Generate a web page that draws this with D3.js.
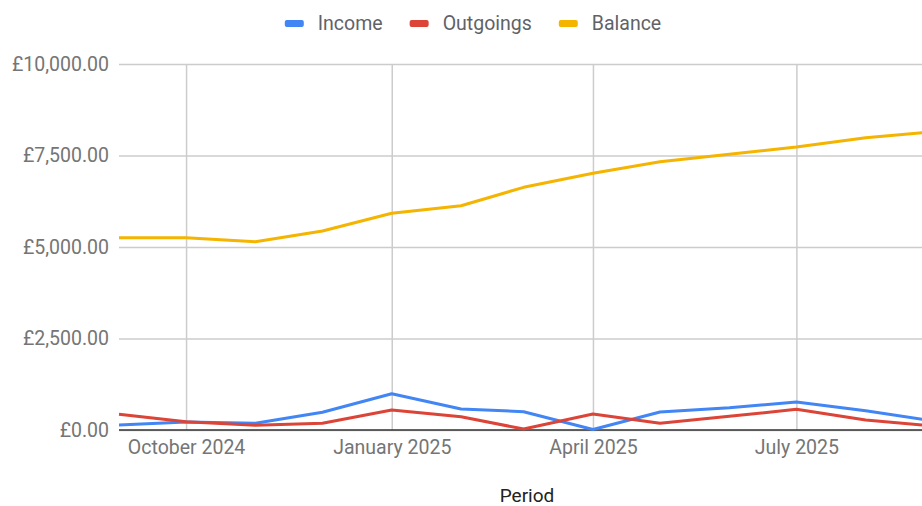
<!DOCTYPE html>
<html>
<head>
<meta charset="utf-8">
<script src="https://cdn.jsdelivr.net/npm/d3@7"></script>
<style>
  body { margin: 0; background: #fff; }
  text { font-family: Roboto, "Noto Sans", sans-serif; }
</style>
</head>
<body>
<div id="chart"></div>
<script>
// Monthly figures
const months = ["2024-09-01", "2024-10-01", "2024-11-01", "2024-12-01", "2025-01-01", "2025-02-01",
    "2025-03-01", "2025-04-01", "2025-05-01", "2025-06-01", "2025-07-01", "2025-08-01", "2025-09-01"];
const income = [137, 219, 183, 483, 992, 574, 500, 15, 492, 610, 765, 527, 238];
const outgoings = [429, 227, 128, 183, 546, 364, 25, 437, 183, 375, 565, 273, 104];
const balance = [5254, 5250, 5145, 5437, 5920, 6128, 6630, 7013, 7330, 7532, 7732, 7986, 8156];
const seriesNames = ["Income", "Outgoings", "Balance"];
const yTicks = [0, 2500, 5000, 7500, 10000];

function drawChart(graphID) {
    let width = 922, height = 506;
    let plot = {left: 119, right: 935, top: 64, bottom: 430};
    let fontSize = 19.5;

    let svg = d3.select(graphID).append("svg")
        .attr("width", width)
        .attr("height", height);

    let parse = d3.timeParse("%Y-%m-%d");
    let dates = months.map(parse);

    let xScale = d3.scaleTime()
        .domain([dates[0], dates[dates.length - 1]])
        .range([plot.left, plot.right]);
    let yScale = d3.scaleLinear()
        .domain([0, 10000])
        .range([plot.bottom, plot.top]);

    let colorScale = {
        "Income": "#4285f4",
        "Outgoings": "#db4437",
        "Balance": "#f4b400"
    };

    let gbp = d3.formatLocale({decimal: ".", thousands: ",", grouping: [3], currency: ["£", ""]});

    // Horizontal gridlines + y labels
    let yAxis = d3.axisLeft(yScale)
        .tickValues(yTicks)
        .tickSize(-(plot.right - plot.left))
        .tickPadding(10)
        .tickFormat(gbp.format("$,.2f"));
    let yg = svg.append("g")
        .attr("transform", "translate(" + plot.left + ",0)")
        .call(yAxis);
    yg.select(".domain").remove();
    yg.selectAll(".tick line").attr("stroke", "#cccccc").attr("stroke-width", 1.5);
    yg.selectAll(".tick text")
        .attr("fill", "#757575")
        .attr("font-size", fontSize);

    // Vertical gridlines + x labels
    let xAxis = d3.axisBottom(xScale)
        .ticks(d3.timeMonth.filter(d => d.getMonth() % 3 === 0))
        .tickSize(-(plot.bottom - plot.top))
        .tickPadding(10)
        .tickFormat(d3.timeFormat("%B %Y"));
    let xg = svg.append("g")
        .attr("transform", "translate(0," + plot.bottom + ")")
        .call(xAxis);
    xg.select(".domain").remove();
    xg.selectAll(".tick line").attr("stroke", "#cccccc").attr("stroke-width", 1.5);
    xg.selectAll(".tick text")
        .attr("fill", "#757575")
        .attr("font-size", fontSize);

    // Baseline at zero
    svg.append("line")
        .attr("x1", plot.left)
        .attr("x2", plot.right)
        .attr("y1", yScale(0))
        .attr("y2", yScale(0))
        .attr("stroke", "#333333")
        .attr("stroke-width", 1.5);

    // Lines
    let seriesData = {"Income": income, "Outgoings": outgoings, "Balance": balance};
    let line = d3.line()
        .x((d, i) => xScale(dates[i]))
        .y(d => yScale(d));

    seriesNames.forEach(function (name) {
        svg.append("path")
            .datum(seriesData[name])
            .attr("fill", "none")
            .attr("stroke", colorScale[name])
            .attr("stroke-width", 3)
            .attr("stroke-linejoin", "round")
            .attr("d", line);
    });

    // Axis title
    svg.append("text")
        .attr("x", (plot.left + plot.right) / 2)
        .attr("y", 502)
        .attr("text-anchor", "middle")
        .attr("fill", "#222222")
        .attr("font-size", 19)
        .text("Period");

    // Legend, centred
    let legend = svg.append("g");
    let items = legend.selectAll("g")
        .data(seriesNames)
        .enter().append("g");
    items.append("rect")
        .attr("width", 19)
        .attr("height", 7)
        .attr("rx", 2)
        .attr("y", 20)
        .attr("fill", d => colorScale[d]);
    items.append("text")
        .attr("x", 33)
        .attr("y", 30)
        .attr("fill", "#5f6368")
        .attr("font-size", fontSize)
        .text(d => d);

    let offset = 0;
    items.each(function () {
        let w = d3.select(this).select("text").node().getComputedTextLength();
        d3.select(this).attr("transform", "translate(" + offset + ",0)");
        offset += 33 + w + 27;
    });
    let total = offset - 27;
    legend.attr("transform", "translate(" + (473 - total / 2) + ",0)");
}

drawChart("#chart");
</script>
</body>
</html>
